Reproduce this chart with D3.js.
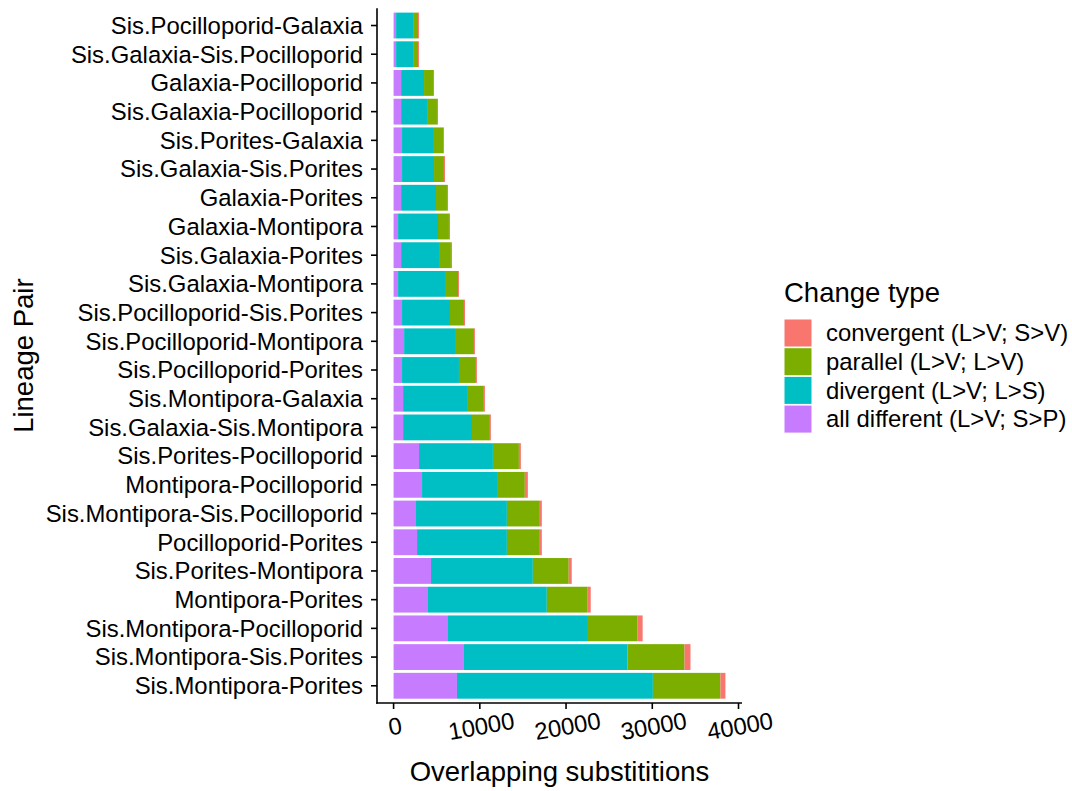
<!DOCTYPE html>
<html>
<head>
<meta charset="utf-8">
<script src="https://cdn.jsdelivr.net/npm/d3@7"></script>
<style>
  html, body { margin: 0; padding: 0; background: #fff; }
  svg { display: block; font-family: "Liberation Sans", Arial, Helvetica, sans-serif; }
</style>
</head>
<body>
<svg id="chart" width="1072" height="791"></svg>
<script>
// Lineage pairs, listed top to bottom
const pairs = [
  "Sis.Pocilloporid-Galaxia",
  "Sis.Galaxia-Sis.Pocilloporid",
  "Galaxia-Pocilloporid",
  "Sis.Galaxia-Pocilloporid",
  "Sis.Porites-Galaxia",
  "Sis.Galaxia-Sis.Porites",
  "Galaxia-Porites",
  "Galaxia-Montipora",
  "Sis.Galaxia-Porites",
  "Sis.Galaxia-Montipora",
  "Sis.Pocilloporid-Sis.Porites",
  "Sis.Pocilloporid-Montipora",
  "Sis.Pocilloporid-Porites",
  "Sis.Montipora-Galaxia",
  "Sis.Galaxia-Sis.Montipora",
  "Sis.Porites-Pocilloporid",
  "Montipora-Pocilloporid",
  "Sis.Montipora-Sis.Pocilloporid",
  "Pocilloporid-Porites",
  "Sis.Porites-Montipora",
  "Montipora-Porites",
  "Sis.Montipora-Pocilloporid",
  "Sis.Montipora-Sis.Porites",
  "Sis.Montipora-Porites"
];

// Overlapping substitution counts per change type (same order as pairs)
const allDifferent = [290, 290, 870, 870, 980, 980, 870, 520, 870, 520, 980, 1220, 980, 1100, 1100, 2950, 3300, 2600, 2720, 4340, 3990, 6310, 8160, 7350];
const divergent    = [1970, 1970, 2660, 3010, 3590, 3710, 4050, 4630, 4400, 5440, 5560, 5900, 6600, 7520, 7990, 8570, 8800, 10540, 10420, 11810, 13780, 16120, 18980, 22720];
const parallel     = [580, 580, 1040, 1150, 1160, 1150, 1270, 1270, 1380, 1510, 1620, 2200, 1970, 1850, 2080, 3010, 3120, 3820, 3820, 4160, 4740, 5870, 6600, 7835];
const convergent   = [110, 110, 120, 120, 110, 120, 120, 120, 120, 110, 120, 110, 110, 120, 110, 230, 350, 230, 230, 350, 350, 580, 690, 575];

// Change types: stacking order is left to right, legend order is top to bottom
const typeKeys   = ["allDifferent", "divergent", "parallel", "convergent"];
const typeLabels = {
  convergent: "convergent (L>V; S>V)",
  parallel: "parallel (L>V; L>V)",
  divergent: "divergent (L>V; L>S)",
  allDifferent: "all different (L>V; S>P)"
};
const typeColors = {
  convergent: "#F8766D",
  parallel: "#7CAE00",
  divergent: "#00BFC4",
  allDifferent: "#C77CFF"
};
const legendOrder = ["convergent", "parallel", "divergent", "allDifferent"];
const xTicks = [0, 10000, 20000, 30000, 40000];

const rows = pairs.map((p, i) => ({
  pair: p,
  allDifferent: allDifferent[i],
  divergent: divergent[i],
  parallel: parallel[i],
  convergent: convergent[i]
}));

const svg = d3.select("#chart");
const panel = { left: 377, right: 742, top: 8.3, bottom: 703 };

const maxTotal = d3.max(rows, d => typeKeys.reduce((s, k) => s + d[k], 0));
const x = d3.scaleLinear()
  .domain([-0.05 * maxTotal, 1.05 * maxTotal])
  .range([panel.left, panel.right]);

const y = d3.scaleBand()
  .domain(pairs)
  .range([panel.top, panel.bottom])
  .paddingInner(0.1)
  .paddingOuter(0.15);

const stacked = d3.stack().keys(typeKeys)(rows);

// Bars
svg.append("g")
  .selectAll("g")
  .data(stacked)
  .join("g")
  .attr("fill", s => typeColors[s.key])
  .selectAll("rect")
  .data(s => s)
  .join("rect")
  .attr("x", d => x(d[0]))
  .attr("width", d => Math.max(0, x(d[1]) - x(d[0])))
  .attr("y", d => y(d.data.pair))
  .attr("height", y.bandwidth());

// Axes
const axisColor = "#000";
const tickFont = 23.9;

const yAxis = svg.append("g").attr("transform", `translate(${panel.left},0)`);
yAxis.append("line")
  .attr("x1", 0).attr("x2", 0)
  .attr("y1", panel.top).attr("y2", panel.bottom + 0.8)
  .attr("stroke", axisColor).attr("stroke-width", 1.6);
yAxis.selectAll("line.tick")
  .data(pairs)
  .join("line")
  .attr("class", "tick")
  .attr("x1", -6).attr("x2", 0)
  .attr("y1", d => y(d) + y.bandwidth() / 2)
  .attr("y2", d => y(d) + y.bandwidth() / 2)
  .attr("stroke", axisColor).attr("stroke-width", 1.6);
yAxis.selectAll("text")
  .data(pairs)
  .join("text")
  .attr("x", -14)
  .attr("y", d => y(d) + y.bandwidth() / 2)
  .attr("dy", "0.35em")
  .attr("text-anchor", "end")
  .attr("font-size", tickFont)
  .attr("fill", "#000")
  .text(d => d);

const xAxis = svg.append("g").attr("transform", `translate(0,${panel.bottom})`);
xAxis.append("line")
  .attr("x1", panel.left - 0.8).attr("x2", panel.right)
  .attr("y1", 0).attr("y2", 0)
  .attr("stroke", axisColor).attr("stroke-width", 1.6);
xAxis.selectAll("line.tick")
  .data(xTicks)
  .join("line")
  .attr("class", "tick")
  .attr("x1", d => x(d)).attr("x2", d => x(d))
  .attr("y1", 0).attr("y2", 6)
  .attr("stroke", axisColor).attr("stroke-width", 1.6);
xAxis.selectAll("text")
  .data(xTicks)
  .join("text")
  .attr("transform", d => `translate(${x(d) + 1.5},23) rotate(-10)`)
  .attr("dy", "0.35em")
  .attr("text-anchor", "middle")
  .attr("font-size", tickFont)
  .attr("fill", "#000")
  .text(d => d);

// Axis titles
svg.append("text")
  .attr("x", (panel.left + panel.right) / 2)
  .attr("y", 781)
  .attr("text-anchor", "middle")
  .attr("font-size", 27.5)
  .attr("fill", "#000")
  .text("Overlapping substititions");

svg.append("text")
  .attr("transform", `translate(33,${(panel.top + panel.bottom) / 2}) rotate(-90)`)
  .attr("text-anchor", "middle")
  .attr("font-size", 27.5)
  .attr("fill", "#000")
  .text("Lineage Pair");

// Legend
const legend = svg.append("g").attr("transform", "translate(784,0)");
legend.append("text")
  .attr("x", 0).attr("y", 302)
  .attr("font-size", 27.5)
  .attr("fill", "#000")
  .text("Change type");
const keyStep = 28.7;
const items = legend.selectAll("g.item")
  .data(legendOrder)
  .join("g")
  .attr("class", "item")
  .attr("transform", (d, i) => `translate(0,${319.5 + i * keyStep})`);
items.append("rect")
  .attr("x", 0.5).attr("y", 0)
  .attr("width", 27).attr("height", 27)
  .attr("fill", d => typeColors[d]);
items.append("text")
  .attr("x", 42)
  .attr("y", 13.5)
  .attr("dy", "0.35em")
  .attr("font-size", tickFont)
  .attr("fill", "#000")
  .text(d => typeLabels[d]);
</script>
</body>
</html>
